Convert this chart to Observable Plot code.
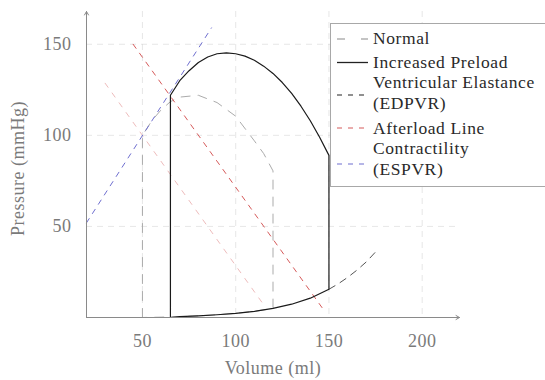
<!DOCTYPE html>
<html><head><meta charset="utf-8">
<script src="https://cdn.jsdelivr.net/npm/d3@7"></script>
<script src="https://cdn.jsdelivr.net/npm/@observablehq/plot@0.6"></script>
<style>
body{margin:0;background:#fff;}
#wrap{position:relative;width:545px;height:380px;overflow:hidden;}
#legend{position:absolute;left:330px;top:23px;}
svg text{font-family:"Liberation Serif","DejaVu Serif",serif;}
</style></head><body><div id="wrap"></div>
<script>
// ---- data ----
const xTicks = [50, 100, 150, 200];
const yTicks = [50, 100, 150];
const xDomain = [20, 220];
const yDomain = [0, 168];

// Normal PV loop (grey dashed)
const normalV = [50, 50, 55, 60, 65, 70, 80, 90, 100, 110, 115, 120, 120, 110, 100, 90, 80, 70, 60, 50];
const normalP = [0, 100, 108, 114, 118.5, 121, 122, 118, 110.5, 97, 90, 80.5, 5, 3.4, 2.3, 1.5, 0.9, 0.5, 0.2, 0];

// Increased preload PV loop (solid)
const preloadV = [65, 65, 70, 75, 80, 85, 90, 95, 100, 105, 110, 115, 120, 125, 130, 135, 140, 145, 150, 150, 140, 130, 120, 110, 100, 90, 80, 70, 65];
const preloadP = [0, 122, 130, 135.5, 140, 143, 144.8, 145.3, 144.8, 143.5, 141.2, 138, 134, 129, 123, 116, 108, 99, 89, 15.5, 10.6, 7.3, 5, 3.4, 2.3, 1.5, 0.9, 0.5, 0];

// EDPVR continuation (dashed)
const edpvrV = [150, 155, 160, 165, 170, 175];
const edpvrP = [15.5, 18.5, 22, 26, 30.5, 36];

// Afterload lines
const afterloadV = [45, 148];
const afterloadP = [150, 3];
const normalAfterloadV = [30, 115];
const normalAfterloadP = [128.6, 7];

// ESPVR
const espvrV = [20, 87];
const espvrP = [52, 159];

// Legend
const legendLabels = [["Normal"], ["Increased Preload"], ["Ventricular Elastance", "(EDPVR)"], ["Afterload Line"], ["Contractility", "(ESPVR)"]];
const legendColors = ["#8a8a8a", "#222", "#222", "#d65a5a", "#6f6fd0"];
const legendDashes = ["8,16", null, "5,6", "5,6", "5,6"];

const xLabel = "Volume (ml)";
const yLabel = "Pressure (mmHg)";

// ---- build ----
const pts = (vs, ps) => vs.map((v, i) => ({v, p: ps[i]}));
const normal = pts(normalV, normalP);
const preload = pts(preloadV, preloadP);
const edpvr = pts(edpvrV, edpvrP);
const afterload = pts(afterloadV, afterloadP);
const normalAfterload = pts(normalAfterloadV, normalAfterloadP);
const espvr = pts(espvrV, espvrP);

const font = "Liberation Serif, DejaVu Serif, serif";

const chart = Plot.plot({
  width: 545, height: 380,
  marginLeft: 86, marginRight: 86, marginTop: 11, marginBottom: 63,
  x: {domain: xDomain},
  y: {domain: yDomain},
  style: {fontFamily: font, fontSize: "18px", color: "#7a7a7a", background: "#fff", letterSpacing: "0.5px"},
  marks: [
    Plot.gridX(xTicks, {stroke: "#d0d0d0", strokeOpacity: 0.5, strokeDasharray: "6,5"}),
    Plot.gridY(yTicks, {stroke: "#d0d0d0", strokeOpacity: 0.5, strokeDasharray: "6,5"}),
    Plot.line(normalAfterload, {x: "v", y: "p", stroke: "#eebcbc", strokeWidth: 1, strokeDasharray: "5,7"}),
    Plot.line(normal, {x: "v", y: "p", stroke: "#ababab", strokeWidth: 1, strokeDasharray: "9,8"}),
    Plot.line(edpvr, {x: "v", y: "p", stroke: "#555", strokeWidth: 1, strokeDasharray: "7,6"}),
    Plot.line(afterload, {x: "v", y: "p", stroke: "#d65a5a", strokeWidth: 1, strokeDasharray: "5,6"}),
    Plot.line(espvr, {x: "v", y: "p", stroke: "#6f6fd0", strokeWidth: 1, strokeDasharray: "5,6"}),
    Plot.line(preload, {x: "v", y: "p", stroke: "#1a1a1a", strokeWidth: 1.2}),
    Plot.arrow([{x1: xDomain[0], y1: yDomain[0], x2: xDomain[1], y2: yDomain[0]}], {x1: "x1", y1: "y1", x2: "x2", y2: "y2", stroke: "#8a8a8a", strokeWidth: 1, headLength: 6}),
    Plot.arrow([{x1: xDomain[0], y1: yDomain[0], x2: xDomain[0], y2: yDomain[1]}], {x1: "x1", y1: "y1", x2: "x2", y2: "y2", stroke: "#8a8a8a", strokeWidth: 1, headLength: 6}),
    Plot.axisX(xTicks, {tickSize: 0, tickPadding: 17, label: null, fontSize: 18}),
    Plot.axisY(yTicks, {tickSize: 0, tickPadding: 15, label: null, fontSize: 18}),
    Plot.text([xLabel], {frameAnchor: "bottom", dy: 51, lineAnchor: "middle", textAnchor: "middle", fontSize: 18, fill: "#7a7a7a"}),
    Plot.text([yLabel], {frameAnchor: "left", dx: -68, dy: 4, rotate: -90, lineAnchor: "middle", textAnchor: "middle", fontSize: 18, fill: "#7a7a7a"})
  ]
});

const wrap = document.getElementById("wrap");
wrap.appendChild(chart);

// Legend (overlay box, cut off at the right edge like the reference)
const lineYs = [16, 39.5, 72, 105, 141];
const textYs = [[20.5], [44.5], [65, 86], [110.5], [131, 152]];
const lw = 232, lh = 164;
const svg = d3.create("svg").attr("id", "legend").attr("width", lw).attr("height", lh)
  .style("font-family", font).style("font-size", "17.5px").style("letter-spacing", "0.6px");
svg.append("rect").attr("x", 0.5).attr("y", 0.5).attr("width", lw + 10).attr("height", lh - 1)
  .attr("fill", "#fff").attr("stroke", "#a8a8a8");
legendLabels.forEach((lines, i) => {
  svg.append("line").attr("x1", 7).attr("x2", 38).attr("y1", lineYs[i]).attr("y2", lineYs[i])
    .attr("stroke", legendColors[i]).attr("stroke-width", i === 1 ? 1.3 : 1.1)
    .attr("stroke-dasharray", legendDashes[i]);
  lines.forEach((t, j) => {
    svg.append("text").attr("x", 43).attr("y", textYs[i][j]).attr("fill", "#2a2a2a").text(t);
  });
});
wrap.appendChild(svg.node());
</script>
</body></html>
